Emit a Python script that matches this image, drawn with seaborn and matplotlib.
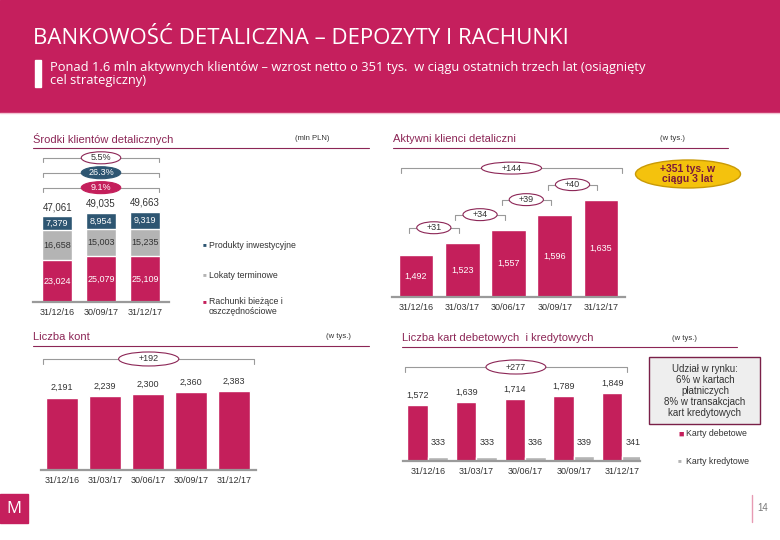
import numpy as np
import pandas as pd
import matplotlib
matplotlib.use('Agg')
import matplotlib.pyplot as plt
from matplotlib.patches import Ellipse, Rectangle
from matplotlib.lines import Line2D
from matplotlib.transforms import Affine2D
import seaborn as sns

#%% data
dates_funds = ['31/12/16', '30/09/17', '31/12/17']
funds_current = [23024, 25079, 25109]   # Rachunki bieżące i oszczędnościowe
funds_term = [16658, 15003, 15235]      # Lokaty terminowe
funds_invest = [7379, 8954, 9319]       # Produkty inwestycyjne
funds_total = [47061, 49035, 49663]
funds_growth = ['5.5%', '26.3%', '9.1%']
funds_legend = ['Produkty inwestycyjne', 'Lokaty terminowe', 'Rachunki bieżące i\noszczędnościowe']

dates_q = ['31/12/16', '31/03/17', '30/06/17', '30/09/17', '31/12/17']
active_clients = [1492, 1523, 1557, 1596, 1635]
active_steps = ['+31', '+34', '+39', '+40']
active_gain = '+144'

accounts = [2191, 2239, 2300, 2360, 2383]
accounts_gain = '+192'

debit_cards = [1572, 1639, 1714, 1789, 1849]
credit_cards = [333, 333, 336, 339, 341]
cards_gain = '+277'
card_types = ['Karty debetowe', 'Karty kredytowe']

#%% style
MAGENTA = '#C41F5B'
HEADER = '#C51F5D'
NAVY = '#2E5672'
GREY = '#B4B4B4'
MAROON = '#8C2656'
TEXT = '#333333'
LINE = '#9A9A9A'

sns.set_theme(style='white')
plt.rcParams['font.family'] = ['Liberation Sans', 'DejaVu Sans']

W, H = 780, 540
fig = plt.figure(figsize=(W / 100, H / 100), dpi=100)
# pixel coordinates, origin top-left
pix = Affine2D().scale(1 / W, -1 / H).translate(0, 1) + fig.transFigure


def px_axes(left, top, right, bottom):
    return fig.add_axes([left / W, 1 - bottom / H, (right - left) / W, (bottom - top) / H])


def panel_header(x0, x1, y, title, unit, unit_x):
    fig.text(x0, y, title, transform=pix, color=MAROON, fontsize=8, va='center')
    fig.text(unit_x, y, unit, transform=pix, color=TEXT, fontsize=5.5, va='center')
    fig.add_artist(Line2D([x0, x1], [y + 9, y + 9], transform=pix, color=MAROON, lw=0.8))


def style_axis(ax, labels):
    ax.set_xticks(range(len(labels)))
    ax.set_xticklabels(labels, fontsize=6.5, color=TEXT)
    ax.tick_params(axis='x', length=0, pad=4)
    ax.set_yticks([])
    ax.set_xlabel('')
    ax.set_ylabel('')
    sns.despine(ax=ax, left=True)
    ax.spines['bottom'].set_color(LINE)
    ax.spines['bottom'].set_linewidth(1.6)
    ax.patch.set_alpha(0)


def bracket(ax, x0, x1, y, drop, text, ew, eh, fc='white', ec=MAROON, tc=TEXT):
    ax.plot([x0, x0, x1, x1], [y - drop, y, y, y - drop], color=LINE, lw=0.8, clip_on=False)
    xm = (x0 + x1) / 2
    ax.add_patch(Ellipse((xm, y), ew, eh, fc=fc, ec=ec, lw=0.8, clip_on=False, zorder=5))
    ax.text(xm, y, text, ha='center', va='center', fontsize=6.5, color=tc, zorder=6)


#%% header band
fig.add_artist(Rectangle((0, 0), W, 112, transform=pix, color=HEADER))
fig.add_artist(Line2D([0, W], [113, 113], transform=pix, color='#F2C4D2', lw=1))
fig.text(33, 38, 'BANKOWOŚĆ DETALICZNA – DEPOZYTY I RACHUNKI', transform=pix,
         color='white', fontsize=16, va='center', family=['Open Sans', 'DejaVu Sans'])
fig.add_artist(Rectangle((35, 60), 6, 27, transform=pix, color='white'))
fig.text(50, 74, 'Ponad 1.6 mln aktywnych klientów – wzrost netto o 351 tys.  w ciągu ostatnich trzech lat (osiągnięty\ncel strategiczny)',
         transform=pix, color='white', fontsize=9.3, va='center', linespacing=1.0,
         family=['Open Sans', 'DejaVu Sans'])

#%% panel 1: Środki klientów detalicznych
panel_header(33, 369, 139, 'Środki klientów detalicznych', '(mln PLN)', 295)
ax1 = px_axes(33, 150, 169, 302)
cum1 = np.array(funds_current)
cum2 = cum1 + np.array(funds_term)
cum3 = cum2 + np.array(funds_invest)
for vals, col in [(cum3, NAVY), (cum2, GREY), (cum1, MAGENTA)]:
    sns.barplot(x=dates_funds, y=vals, color=col, saturation=1, width=0.67, ax=ax1)
ax1.set_xlim(-0.55, 2.55)
ax1.set_ylim(0, 83500)
style_axis(ax1, dates_funds)
for i in range(3):
    ax1.text(i, cum1[i] / 2, f'{funds_current[i]:,}', ha='center', va='center', fontsize=6.5, color='white')
    ax1.text(i, (cum1[i] + cum2[i]) / 2, f'{funds_term[i]:,}', ha='center', va='center', fontsize=6.5, color=TEXT)
    ax1.text(i, (cum2[i] + cum3[i]) / 2, f'{funds_invest[i]:,}', ha='center', va='center', fontsize=6.5, color='white')
    ax1.annotate(f'{funds_total[i]:,}', (i, cum3[i]), xytext=(0, 3), textcoords='offset points',
                 ha='center', va='bottom', fontsize=7, color=TEXT)
top = max(cum3)
styles = [('white', MAROON, TEXT), (NAVY, NAVY, 'white'), (MAGENTA, MAGENTA, 'white')]
for k, (lab, (fc, ec, tc)) in enumerate(zip(funds_growth, styles)):
    bracket(ax1, -0.33, 2.33, top * (1.595 - 0.165 * k), 2500, lab, 0.9, 6600, fc, ec, tc)

for lab, col, y in zip(funds_legend, [NAVY, GREY, MAGENTA], [245, 275, 302]):
    fig.text(203, y, '■', transform=pix, color=col, fontsize=4.5, va='center')
    fig.text(209, y - 5 if '\n' in lab else y, lab, transform=pix, color=TEXT, fontsize=6.3,
             va='top' if '\n' in lab else 'center', linespacing=1.1)

#%% panel 2: Aktywni klienci detaliczni
panel_header(393, 728, 139, 'Aktywni klienci detaliczni', '(w tys.)', 660)
ax2 = px_axes(392, 150, 625, 297)
sns.barplot(x=dates_q, y=active_clients, color=MAGENTA, saturation=1, width=0.75, ax=ax2)
ax2.set_xlim(-0.52, 4.52)
ax2.set_ylim(1383, 1765)
style_axis(ax2, dates_q)
for i, v in enumerate(active_clients):
    ax2.text(i, (1383 + v) / 2, f'{v:,}', ha='center', va='center', fontsize=6.5, color='white')
for i, lab in enumerate(active_steps):
    bracket(ax2, i - 0.15, i + 0.92, active_clients[i + 1] + 40, 13, lab, 0.74, 31)
bracket(ax2, -0.32, 4.45, 1718, 13, active_gain, 1.3, 31)
fig.add_artist(Ellipse((688, 174), 105, 28, transform=pix, fc='#F4C20D', ec='#C99A06', lw=1))
fig.text(688, 174, '+351 tys. w\nciągu 3 lat', transform=pix, ha='center', va='center',
         fontsize=7.5, fontweight='bold', color='#7B1A3A', linespacing=1.05)

#%% panel 3: Liczba kont
panel_header(33, 369, 337, 'Liczba kont', '(w tys.)', 326)
ax3 = px_axes(41, 350, 256, 470)
sns.barplot(x=dates_q, y=accounts, color=MAGENTA, saturation=1, width=0.74, ax=ax3)
ax3.set_xlim(-0.49, 4.51)
ax3.set_ylim(0, 3636)
style_axis(ax3, dates_q)
for i, v in enumerate(accounts):
    ax3.annotate(f'{v:,}', (i, v), xytext=(0, 4), textcoords='offset points',
                 ha='center', va='bottom', fontsize=6.5, color=TEXT)
bracket(ax3, -0.44, 4.47, 3364, 150, accounts_gain, 1.4, 424)

#%% panel 4: Liczba kart debetowych i kredytowych
panel_header(402, 737, 338, 'Liczba kart debetowych  i kredytowych', '(w tys.)', 672)
ax4 = px_axes(403, 350, 640, 461)
cards = pd.DataFrame({'date': dates_q * 2,
                      'value': debit_cards + credit_cards,
                      'type': [card_types[0]] * 5 + [card_types[1]] * 5})
sns.barplot(data=cards, x='date', y='value', hue='type', palette=[MAGENTA, GREY],
            saturation=1, width=0.84, legend=False, ax=ax4)
ax4.set_xlim(-0.51, 4.36)
ax4.set_ylim(230, 2892)
style_axis(ax4, dates_q)
ax4.bar_label(ax4.containers[0], labels=[f'{v:,}' for v in debit_cards], padding=4, fontsize=6.5, color=TEXT)
ax4.bar_label(ax4.containers[1], labels=[f'{v:,}' for v in credit_cards], padding=7, fontsize=6.5, color=TEXT)
bracket(ax4, -0.47, 4.09, 2484, 120, cards_gain, 1.23, 336)

fig.add_artist(Rectangle((649, 357), 111, 67, transform=pix, fc='#EEEEEE', ec='#7A2048', lw=1))
fig.text(705, 391, 'Udział w rynku:\n6% w kartach\npłatniczych\n8% w transakcjach\nkart kredytowych',
         transform=pix, ha='center', va='center', fontsize=7, color=TEXT, linespacing=1.12)
for lab, col, y, s in zip(card_types, [MAGENTA, GREY], [434, 461], [6.5, 4.5]):
    fig.text(678, y, '■', transform=pix, color=col, fontsize=s, va='center')
    fig.text(686, y, lab, transform=pix, color=TEXT, fontsize=6.3, va='center')

#%% footer
fig.add_artist(Rectangle((0, 494), 28, 29, transform=pix, color=HEADER))
fig.text(14, 509, 'M', transform=pix, ha='center', va='center', color='white', fontsize=12,
         family=['Open Sans', 'DejaVu Sans'])
fig.add_artist(Line2D([752, 752], [495, 522], transform=pix, color='#E79AB3', lw=1))
fig.text(763, 508, '14', transform=pix, ha='center', va='center', color='#777777', fontsize=7)

fig.savefig('out.png', dpi=100)
